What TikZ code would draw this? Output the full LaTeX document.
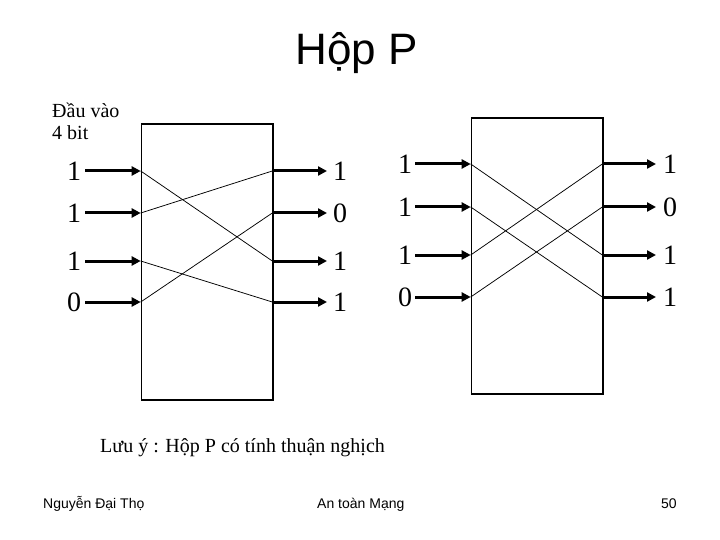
\documentclass[tikz,border=0pt]{standalone}
\usepackage{fontspec}
\setmainfont{Liberation Serif}
\newfontfamily\arialf{Liberation Sans}
\usetikzlibrary{arrows.meta}
\begin{document}
\begin{tikzpicture}[x=1pt,y=-1pt,
  pbox/.style={draw, line width=1.5pt, inner sep=0pt, minimum width=131.6pt, minimum height=276pt, anchor=north west},
  bitarrow/.style={line width=3pt, -{Triangle[length=9pt,width=9pt]}},
  wire/.style={line width=0.75pt},
  bit/.style={font=\fontsize{28}{28}\selectfont, inner sep=0pt},
  txt/.style={anchor=base west, inner sep=0pt, font=\fontsize{20}{22}\selectfont, align=left},
  foot/.style={anchor=base west, inner sep=0pt, font=\arialf\fontsize{14}{14}\selectfont},
]
\useasboundingbox (0,0) rectangle (720,540);
\node[anchor=base, inner sep=0pt, font=\arialf\fontsize{44}{44}\selectfont] (title) at (356.5,65) {Hộp P};
\node[txt] (inlabel) at (52,140) {Đầu vào\\4 bit};

\node[pbox] (boxL) at (140.7,123.3) {};
\node[pbox] (boxR) at (470.7,117.3) {};

\foreach \i/\y/\a/\b in {1/171/1/1, 2/213/1/0, 3/261/1/1, 4/302/0/1} {
  \coordinate (Ls\i) at (85,\y);
  \coordinate (Li\i) at (140.7,\y);
  \coordinate (Lo\i) at (272.3,\y);
  \coordinate (Le\i) at (327,\y);
  \node[bit] (Lin\i) at (74,\y) {\a};
  \node[bit] (Lout\i) at (340,\y) {\b};
  \draw[bitarrow] (Ls\i) -- (Li\i);
  \draw[bitarrow] (Lo\i) -- (Le\i);
}
\foreach \i/\y/\a/\b in {1/164/1/1, 2/207/1/0, 3/255/1/1, 4/297/0/1} {
  \coordinate (Rs\i) at (415,\y);
  \coordinate (Ri\i) at (470.7,\y);
  \coordinate (Ro\i) at (602.3,\y);
  \coordinate (Re\i) at (656,\y);
  \node[bit] (Rin\i) at (405,\y) {\a};
  \node[bit] (Rout\i) at (670,\y) {\b};
  \draw[bitarrow] (Rs\i) -- (Ri\i);
  \draw[bitarrow] (Ro\i) -- (Re\i);
}
\draw[wire] (Li1) -- (Lo3);
\draw[wire] (Li2) -- (Lo1);
\draw[wire] (Li3) -- (Lo4);
\draw[wire] (Li4) -- (Lo2);
\draw[wire] (Ri1) -- (Ro3);
\draw[wire] (Ri2) -- (Ro4);
\draw[wire] (Ri3) -- (Ro1);
\draw[wire] (Ri4) -- (Ro2);

\node[txt] (note) at (100,452) {Lưu ý : Hộp P có tính thuận nghịch};
\node[foot] (author) at (43,508) {Nguyễn Đại Thọ};
\node[foot] (course) at (317,508) {An toàn Mạng};
\node[foot] (page) at (661,508) {50};
\end{tikzpicture}
\end{document}
